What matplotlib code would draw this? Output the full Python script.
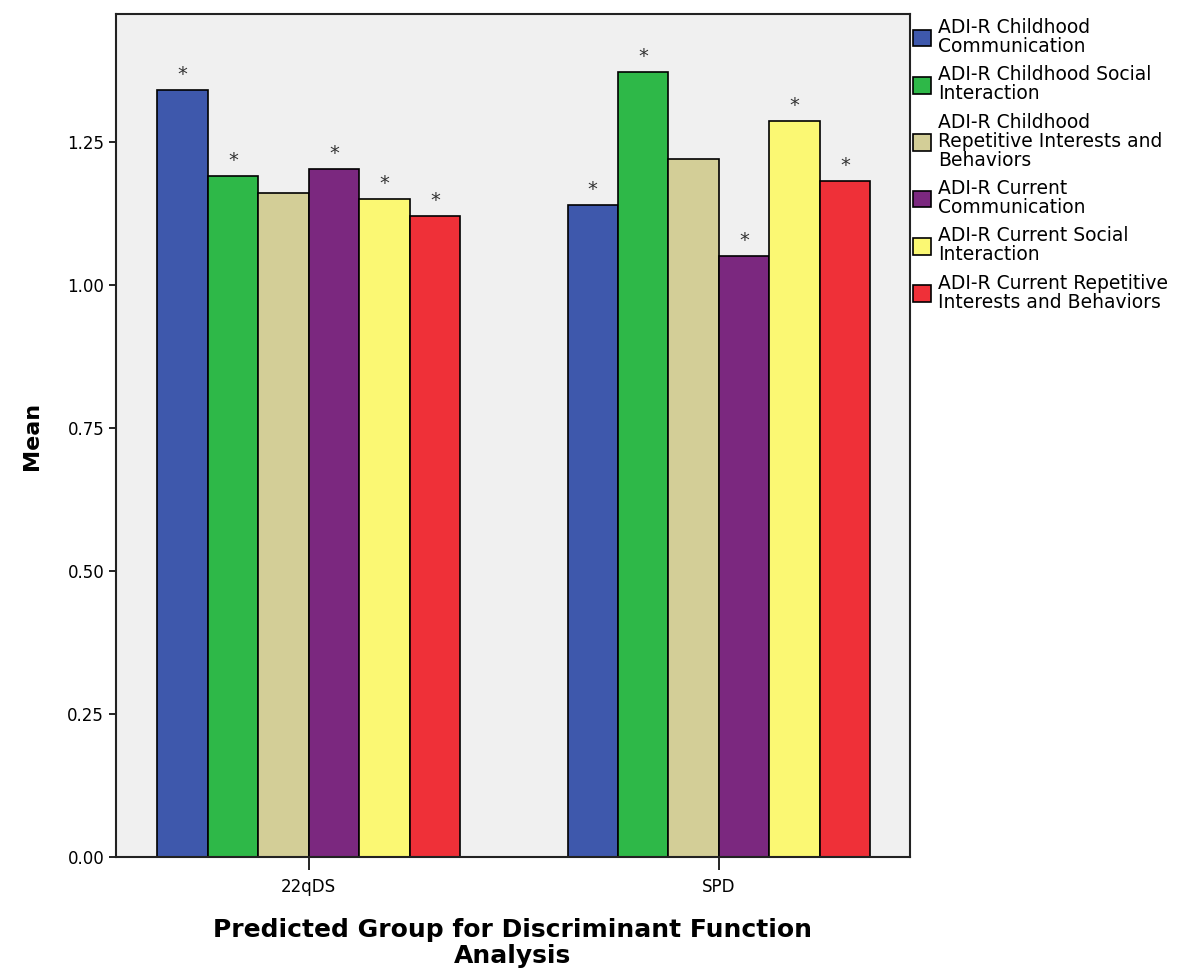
import numpy as np
import matplotlib
matplotlib.use("Agg")
import matplotlib.pyplot as plt

# groups on the x axis
groups = ["22qDS", "SPD"]

# one series per ADI-R domain
series = [
    "ADI-R Childhood\nCommunication",
    "ADI-R Childhood Social\nInteraction",
    "ADI-R Childhood\nRepetitive Interests and\nBehaviors",
    "ADI-R Current\nCommunication",
    "ADI-R Current Social\nInteraction",
    "ADI-R Current Repetitive\nInterests and Behaviors",
]
colors = ["#3E58AC", "#2EB848", "#D3CE97", "#7B287F", "#FBF873", "#EF3038"]

# mean values, rows = series, cols = groups
means = [
    [1.342, 1.141],
    [1.191, 1.373],
    [1.161, 1.220],
    [1.204, 1.051],
    [1.151, 1.287],
    [1.121, 1.182],
]
# significance star above bar
sig = [
    [True, True],
    [True, True],
    [False, False],
    [True, True],
    [True, True],
    [True, True],
]

fig = plt.figure(figsize=(11.99, 9.73), dpi=100)
ax = fig.add_axes([0.0967, 0.119, 0.662, 0.8665])
ax.set_facecolor("#F0F0F0")

x = np.arange(len(groups))
w = 0.123
n = len(series)
for i in range(n):
    pos = x + (i - (n - 1) / 2) * w
    ax.bar(pos, means[i], width=w, color=colors[i], edgecolor="black",
           linewidth=1.2, label=series[i], zorder=2)
    for j in range(len(groups)):
        if sig[i][j]:
            ax.text(pos[j], means[i][j] + 0.01, "*", ha="center", va="bottom",
                    fontsize=14, color="#333333")

ax.set_xlim(-0.47, 1.465)
ax.set_ylim(0, 1.474)
ax.set_yticks([0, 0.25, 0.5, 0.75, 1.0, 1.25])
ax.set_yticklabels(["0.00", "0.25", "0.50", "0.75", "1.00", "1.25"], fontsize=12)
ax.set_xticks(x)
ax.set_xticklabels(groups, fontsize=12)
ax.tick_params(axis="x", length=9, width=1.2, pad=6)
ax.tick_params(axis="y", length=5, width=1.2)
for s in ax.spines.values():
    s.set_linewidth(1.5)
    s.set_color("#222222")

ax.set_ylabel("Mean", fontsize=16, fontweight="bold", labelpad=18)
ax.set_xlabel("Predicted Group for Discriminant Function\nAnalysis", fontsize=18,
              fontweight="bold", labelpad=16, linespacing=1.1)

leg = ax.legend(loc="upper left", bbox_to_anchor=(1.0, 1.0), frameon=False,
                fontsize=13.5, handlelength=0.95, handleheight=1.0,
                handletextpad=0.35, labelspacing=0.5, borderaxespad=0.2,
                borderpad=0.0)
for t in leg.get_texts():
    t.set_linespacing(1.0)

fig.savefig("out.png", dpi=100, facecolor="white")
